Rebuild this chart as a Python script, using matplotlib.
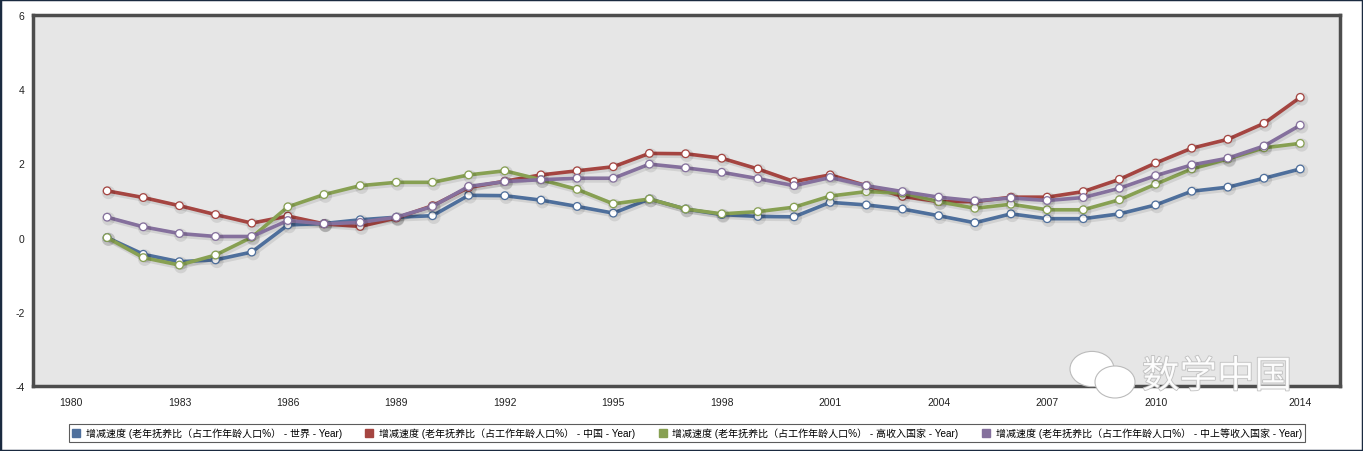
import matplotlib
matplotlib.use("Agg")
import matplotlib.pyplot as plt
import matplotlib.patheffects as pe
from matplotlib.lines import Line2D
from matplotlib.patches import Rectangle

years = list(range(1981, 2015))

world = [0.00, -0.45, -0.65, -0.60, -0.39, 0.34, 0.38, 0.48, 0.55, 0.59,
         1.14, 1.13, 1.01, 0.84, 0.66, 1.04, 0.77, 0.62, 0.57, 0.56,
         0.95, 0.88, 0.77, 0.59, 0.40, 0.64, 0.51, 0.51, 0.64, 0.88,
         1.25, 1.36, 1.60, 1.85]
china = [1.26, 1.08, 0.86, 0.62, 0.39, 0.58, 0.37, 0.30, 0.53, 0.86,
         1.35, 1.52, 1.69, 1.80, 1.91, 2.27, 2.26, 2.14, 1.85, 1.51,
         1.69, 1.40, 1.11, 0.97, 0.97, 1.09, 1.09, 1.24, 1.57, 2.01,
         2.41, 2.65, 3.08, 3.78]
high_income = [0.00, -0.54, -0.74, -0.47, 0.01, 0.83, 1.16, 1.40, 1.49, 1.49,
               1.69, 1.80, 1.56, 1.30, 0.91, 1.04, 0.77, 0.64, 0.70, 0.82,
               1.12, 1.24, 1.20, 0.97, 0.79, 0.90, 0.75, 0.75, 1.02, 1.44,
               1.85, 2.12, 2.42, 2.54]
upper_middle = [0.55, 0.29, 0.11, 0.03, 0.03, 0.46, 0.37, 0.41, 0.55, 0.84,
                1.38, 1.51, 1.56, 1.60, 1.60, 1.98, 1.88, 1.76, 1.59, 1.40,
                1.62, 1.40, 1.24, 1.09, 0.99, 1.07, 1.00, 1.08, 1.33, 1.67,
                1.96, 2.14, 2.47, 3.03]

series_labels = [
    "增减速度 (老年抚养比（占工作年龄人口%） - 世界 - Year)",
    "增减速度 (老年抚养比（占工作年龄人口%） - 中国 - Year)",
    "增减速度 (老年抚养比（占工作年龄人口%） - 高收入国家 - Year)",
    "增减速度 (老年抚养比（占工作年龄人口%） - 中上等收入国家 - Year)",
]
colors = ["#4E6F9C", "#A54541", "#87A052", "#85709D"]
xtick_values = [1980, 1983, 1986, 1989, 1992, 1995, 1998, 2001, 2004, 2007, 2010, 2014]
ytick_values = [-4, -2, 0, 2, 4, 6]

fam = ["Liberation Sans", "Noto Sans CJK SC", "DejaVu Sans"]

fig = plt.figure(figsize=(13.63, 4.52), dpi=100)
fig.patch.set_facecolor("white")
ax = fig.add_axes([33 / 1363, 1 - 387 / 452, (1340 - 33) / 1363, (387 - 16) / 452])
ax.set_facecolor("#E6E6E6")

data = [world, china, high_income, upper_middle]
draw_order = [0, 1, 3, 2]
for i in draw_order:
    ax.plot(years, data[i], color=colors[i], lw=2.6, zorder=3 + i * 0.1,
            marker="o", markersize=5.5, markerfacecolor="white",
            markeredgecolor=colors[i], markeredgewidth=0.9,
            path_effects=[pe.SimpleLineShadow(offset=(1, -1.2), shadow_color="black", alpha=0.09, linewidth=4),
                          pe.Normal()])

ax.set_xlim(1978.95, 2015.1)
ax.set_ylim(-4, 6)
ax.set_xticks(xtick_values)
ax.set_xticklabels([str(v) for v in xtick_values], fontfamily=fam, fontsize=7.5, color="#222222")
ax.set_yticks(ytick_values)
ax.set_yticklabels([str(v) for v in ytick_values], fontfamily=fam, fontsize=7.5, color="#222222")
ax.tick_params(axis="both", length=0)
ax.tick_params(axis="x", pad=8)
ax.tick_params(axis="y", pad=6)
for s in ax.spines.values():
    s.set_color("#4d4d4d")
    s.set_linewidth(2.5)

# watermark
fig.text(1142 / 1363, 1 - 378 / 452, "数学中国", fontfamily=["Noto Sans CJK SC"], fontsize=27,
         color="white", alpha=0.9, va="center", ha="left",
         path_effects=[pe.withStroke(linewidth=1.2, foreground="#bbbbbb")], zorder=10)
for cx, cy, r in [(1092, 370, 22), (1115, 383, 20)]:
    circ = matplotlib.patches.Ellipse((cx / 1363, 1 - cy / 452), 2 * r / 1363, 1.6 * r / 452,
                                      transform=fig.transFigure, facecolor="white",
                                      edgecolor="#bbbbbb", lw=0.8, zorder=10)
    fig.patches.append(circ)

handles = [Line2D([], [], linestyle="none", marker="s", markersize=6,
                  markerfacecolor=c, markeredgecolor=c) for c in colors]
leg = fig.legend(handles, series_labels, loc="center", bbox_to_anchor=(687 / 1363, 1 - 434 / 452),
                 ncol=4, frameon=True, fancybox=False, prop={"family": fam, "size": 7.2},
                 handlelength=0.8, handletextpad=0.6, columnspacing=2.3, borderpad=0.35)
leg.get_frame().set_edgecolor("#333333")
leg.get_frame().set_linewidth(0.8)

fig.patches.append(Rectangle((0, 0), 1, 1, transform=fig.transFigure, fill=False,
                             edgecolor="#1a2a40", lw=2.5, zorder=20))

fig.savefig("out.png", dpi=100)
